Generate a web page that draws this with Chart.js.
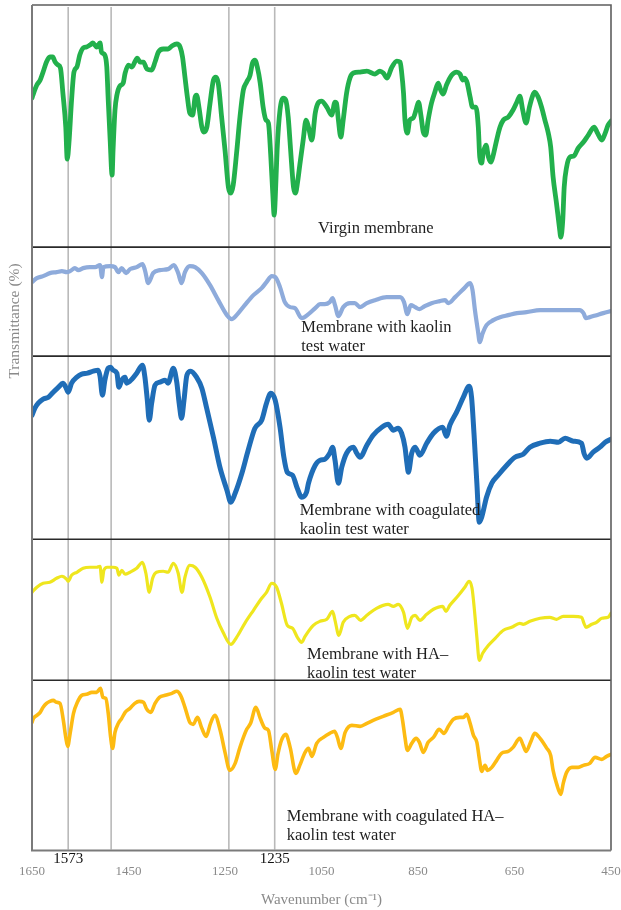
<!DOCTYPE html>
<html>
<head>
<meta charset="utf-8">
<script src="https://cdn.jsdelivr.net/npm/chart.js@4.4.1/dist/chart.umd.min.js"></script>
<style>
  html, body { margin: 0; padding: 0; background: #ffffff; }
  #wrap { width: 621px; height: 910px; }
</style>
</head>
<body>
<div id="wrap"><canvas id="ftir" width="621" height="910"></canvas></div>
<script>
// FTIR spectra of the membranes, wavenumber (cm-1) and relative transmittance per panel

const virginWn = [
  1650,1648,1640,1633,1627,1620,1613,1607,1602,1596,
  1591,1586,1580,1577,1573,1568,1563,1557,1551,1544,
  1537,1530,1524,1516,1509,1506,1499,1495,1492,1488,
  1484,1482,1478,1474,1468,1461,1457,1450,1443,1437,
  1432,1426,1419,1412,1402,1395,1388,1378,1368,1360,
  1350,1343,1338,1333,1328,1323,1317,1312,1309,1304,
  1298,1294,1288,1281,1274,1269,1264,1257,1250,1243,
  1238,1233,1226,1219,1212,1205,1198,1193,1188,1183,
  1177,1171,1165,1160,1155,1151,1148,1146,1142,1136,
  1129,1124,1119,1114,1108,1104,1099,1095,1088,1082,
  1077,1070,1063,1057,1050,1039,1029,1022,1019,1015,
  1010,1005,998,991,984,970,956,939,929,922,
  914,905,894,887,884,880,877,872,867,860,
  854,849,844,839,834,829,822,815,808,803,
  798,791,780,770,763,757,753,748,742,737,
  730,725,722,718,715,709,704,699,694,687,
  680,673,663,653,645,639,633,626,619,612,
  608,601,594,587,580,575,570,563,557,554,
  550,547,542,535,527,518,507,497,485,478,
  469,462,456,450
];
const virginT = [
  74.5,76,81,83.5,87.5,92.5,95,95,92.5,91,
  89.5,77,60,44,53.5,73.5,87.5,90,96,99.5,
  100,101,102,100,102,97.5,96,90,73.5,53.5,
  36,48.5,68.5,76,80.5,82,87,91,90,92.5,
  94.5,92.5,92.5,89,88.5,92.5,97.5,99,99,100.5,
  101.5,100,95,85,75,67,66,75,76,70,
  60,57.5,59.5,72,83.5,85,82,65,48.5,30,
  27,31,47,65,78.5,82.5,86,92,93.5,90,
  82,70,63.5,62,45,27,16,23.5,48.5,68.5,
  74.5,73.5,65,48.5,30,27,33.5,41,53.5,63.5,
  60,53.5,67,72,73,70,66,72.5,72,63.5,
  55,63.5,77,84.5,87,87.5,88,86.5,88,87,
  84.5,89.5,93,92.5,87.5,77,63.5,57,63.5,64.5,
  68.5,72.5,66,57.5,56,63.5,72,77.5,82,78.5,
  76.5,81,86,87.5,86.5,83.5,84.5,82,75,70,
  70,60,45,42,47,51,45,42.5,46,53.5,
  60,63.5,65,68.5,72.5,75.5,68.5,62,70,76,
  77.5,75,70,63.5,57,50,35,22,10,5,
  13.5,30,40,45,45.5,49.5,52.5,56,60,57,
  53.5,57,61,63
];

const kaolinWn = [
  1650,1640,1627,1613,1599,1588,1578,1571,1561,1554,
  1544,1530,1519,1509,1505,1502,1488,1478,1471,1464,
  1455,1447,1433,1421,1416,1409,1399,1385,1368,1356,
  1347,1340,1333,1323,1312,1298,1281,1264,1246,1236,
  1226,1209,1191,1174,1164,1153,1144,1136,1126,1115,
  1105,1091,1077,1063,1053,1043,1033,1027,1022,1015,
  1005,991,981,970,956,939,915,901,887,879,
  872,865,856,847,836,822,805,794,787,773,
  756,742,737,732,726,722,716,708,694,680,
  663,645,625,597,570,542,515,507,502,494,
  480,466,450
];
const kaolinT = [
  37,39,40,41.5,42,42.5,42,42.5,44,43,
  44,44.5,44.5,45.5,39.5,44.5,45,44.5,42,44,
  41.5,43.5,44.5,46,43,36.5,41.5,43,43.5,45.5,
  41.5,36.5,42,45,44.5,41.5,35.5,28,20.5,18.5,
  20.5,25.5,30.5,34,37,40,39,34.5,27,24.5,
  24,19,21,24,26,26,27,29,25.5,20,
  24.5,26.5,26.5,24.5,26.5,28,29.5,29.5,29.5,27,
  21,25.5,24.5,23.5,25,26.5,27.5,28,26.5,29.5,
  33.5,36.5,33,23,13,7,11.5,15.5,18,19.5,
  20.5,21.5,22,23,23,23,23,21.5,19,19.5,
  20.5,21.5,22.5
];

const coagKaolinWn = [
  1650,1644,1637,1627,1616,1606,1595,1586,1580,1575,
  1568,1557,1547,1535,1523,1513,1509,1504,1499,1492,
  1487,1482,1474,1470,1464,1457,1454,1443,1433,1421,
  1416,1411,1407,1402,1395,1385,1374,1368,1357,1350,
  1345,1340,1335,1329,1321,1309,1298,1288,1274,1260,
  1246,1238,1229,1215,1202,1188,1174,1164,1155,1146,
  1136,1128,1121,1110,1101,1091,1081,1077,1063,1053,
  1043,1033,1027,1022,1015,1008,998,984,977,970,
  956,943,925,912,901,891,884,877,873,870,
  863,856,846,832,818,799,791,784,770,756,
  744,739,734,728,723,718,708,697,684,666,
  649,632,618,597,576,559,545,528,511,506,
  500,487,473,462,450
];
const coagKaolinT = [
  62,65.5,68,70,71,73.5,76,78,76,73.5,
  78,81,82.5,83,84,84.5,81.5,72,79.5,85.5,
  86,84.5,83,76,79.5,81,78,80,83,87,
  81,69.5,59.5,68,77,78.5,79.5,78,85.5,78.5,
  68,60.5,69.5,82,84,81,75.5,65.5,51,35.5,
  24.5,18.5,23,33,44.5,55.5,59.5,68,73,69.5,
  56,41,33.5,32,26,21,23.5,28,37,39.5,
  40,43,46,39.5,28,36,43,46,43,41,
  47,52,56,57.5,54.5,55.5,53,46,38,33.5,
  43,46,42,48,53,56,51.5,57,63.5,71,
  76.5,71,53,28,8.5,11,21,28,32,37,
  41,42.5,46,48,49,48.5,50.5,49,48,43,
  40.5,43.5,46,48.5,50
];

const haKaolinWn = [
  1650,1640,1627,1613,1599,1588,1578,1575,1568,1557,
  1544,1530,1516,1509,1505,1501,1494,1482,1474,1470,
  1464,1457,1447,1433,1421,1414,1407,1400,1392,1378,
  1368,1357,1347,1339,1333,1323,1312,1298,1281,1267,
  1254,1238,1226,1209,1191,1174,1164,1153,1143,1133,
  1121,1110,1100,1091,1084,1067,1053,1039,1027,1022,
  1014,1005,991,981,969,956,936,912,901,891,
  880,872,863,856,846,832,818,799,792,784,
  766,753,744,738,733,728,723,716,704,690,
  673,656,639,632,618,597,577,563,549,528,
  511,506,502,490,480,469,456,450
];
const haKaolinT = [
  44,46.5,48.5,49,51,52,50.5,49.5,52.5,54,
  56,56.5,56.5,57,49,55,56.5,56.5,56,52.5,
  55,53,54,56,59,53.5,44,51,54,54.5,
  54,58.5,53.5,44,51.5,57.5,56.5,51.5,41.5,31,
  24,18,21.5,28.5,35,41,44,48.5,46.5,38.5,
  27.5,26,21.5,19,22,27.5,29.5,30.5,34.5,30,
  22.5,29,32,32.5,30,32.5,36,38,37,38,
  34,26,31.5,32.5,30,33,35.5,37,34.5,37.5,
  42.5,46.5,49.5,46,35,21.5,10,13.5,17.5,21,
  25,26.5,28.5,28,29.5,31,31.5,30.5,32,32,
  31.5,28.5,26.5,28,29,31,31.5,33.5
];

const coagHaKaolinWn = [
  1650,1647,1640,1633,1627,1620,1613,1606,1599,1592,
  1585,1580,1576,1571,1564,1556,1547,1537,1526,1516,
  1508,1503,1497,1492,1487,1483,1478,1471,1464,1457,
  1447,1437,1428,1419,1412,1404,1395,1386,1374,1360,
  1350,1342,1333,1323,1316,1307,1298,1289,1280,1271,
  1260,1250,1240,1229,1219,1205,1197,1186,1177,1167,
  1160,1153,1146,1140,1133,1124,1115,1103,1095,1084,
  1077,1070,1060,1046,1033,1023,1017,1010,1001,987,
  970,956,943,922,901,887,882,877,872,863,
  854,847,839,829,818,806,796,787,777,763,
  756,749,742,735,728,723,718,711,706,697,
  687,677,663,653,639,632,626,616,608,597,
  583,575,570,563,554,549,542,531,518,507,
  494,483,469,459,450
];
const coagHaKaolinT = [
  64,66,67.5,69,71.5,73.5,74.5,75,74,73.5,
  65,56.5,52,58.5,68.5,74,77.5,78,79,79,
  81,76.5,76,68.5,56.5,51,59,63.5,66,69,
  71,73.5,74.5,74,70.5,69,73.5,76.5,77.5,78.5,
  79.5,77.5,71.5,64,63,66.5,61,57,63.5,67.5,
  60,49,40,43.5,51.5,60.5,63.5,71.5,66,61,
  60,50,40.5,48.5,55,58,51.5,38.5,42.5,49,
  51,47,53.5,56.5,58.5,59.5,56.5,51,59,62.5,
  62,63.5,65,67,69,70.5,65,56.5,50,53.5,
  56,54,49,54,56.5,60.5,58.5,62,65.5,66.5,
  66.5,68,63.5,57.5,54,46,39.5,42.5,40,41.5,
  45,48.5,49.5,51.5,56,52.5,49.5,54.5,58.5,56,
  51,47.5,40,33.5,28,33.5,39,41.5,41.5,42.5,
  43.5,46.5,45.5,47,48
];

// x-axis tick values and the marked absorption bands
const xTicks = [1650, 1450, 1250, 1050, 850, 650, 450];
const bandLines = [1575, 1486, 1242, 1147];
const bandLabels = ['1573', null, null, '1235'];

const seriesNames = [
  'Virgin membrane',
  'Membrane with kaolin test water',
  'Membrane with coagulated kaolin test water',
  'Membrane with HA–kaolin test water',
  'Membrane with coagulated HA–kaolin test water'
];

// ---------------------------------------------------------------------------
const SERIF = '"Liberation Serif", "Times New Roman", Times, serif';

const panels = [
  { id: 'y1', max: 121,  weight: 242, color: '#22B04C', width: 4.8, wn: virginWn,       t: virginT },
  { id: 'y2', max: 54.5, weight: 109, color: '#8EABDB', width: 4.2, wn: kaolinWn,       t: kaolinT },
  { id: 'y3', max: 91.5, weight: 183, color: '#1F6DB7', width: 5,   wn: coagKaolinWn,   t: coagKaolinT },
  { id: 'y4', max: 70.5, weight: 141, color: '#EFE61E', width: 3.2, wn: haKaolinWn,     t: haKaolinT },
  { id: 'y5', max: 85,   weight: 170, color: '#FDBB12', width: 3.6, wn: coagHaKaolinWn, t: coagHaKaolinT }
];

// panel captions, anchored in each panel's own coordinates
const captions = [
  { scale: 'y1', wn: 1057, t: 9,    lines: ['Virgin membrane'] },
  { scale: 'y2', wn: 1092, t: 14,   lines: ['Membrane with kaolin', 'test water'] },
  { scale: 'y3', wn: 1095, t: 14.5, lines: ['Membrane with coagulated', 'kaolin test water'] },
  { scale: 'y4', wn: 1080, t: 13,   lines: ['Membrane with HA–', 'kaolin test water'] },
  { scale: 'y5', wn: 1122, t: 17,   lines: ['Membrane with coagulated HA–', 'kaolin test water'] }
];

const datasets = panels.map((p, i) => ({
  label: seriesNames[i],
  data: p.wn.map((w, k) => ({ x: w, y: p.t[k] })),
  yAxisID: p.id,
  xAxisID: 'x',
  borderColor: p.color,
  backgroundColor: p.color,
  borderWidth: p.width,
  pointRadius: 0,
  fill: false,
  cubicInterpolationMode: 'monotone',
  borderJoinStyle: 'round',
  borderCapStyle: 'round'
}));

const scales = {
  x: {
    type: 'linear',
    reverse: true,
    min: 450,
    max: 1650,
    afterBuildTicks: (scale) => { scale.ticks = xTicks.map(v => ({ value: v })); },
    // end labels may overhang the plot edges
    afterFit: (scale) => { scale.paddingLeft = 0; scale.paddingRight = 0; },
    grid: { display: false, drawTicks: false },
    border: { display: false },
    ticks: {
      color: '#8a8a8a',
      font: { family: SERIF, size: 13 },
      padding: 13,
      maxRotation: 0,
      autoSkip: false,
      callback: (v) => String(v)
    },
    title: {
      display: true,
      text: 'Wavenumber (cm⁻¹)',
      color: '#8a8a8a',
      font: { family: SERIF, size: 15 },
      padding: { top: -1, bottom: 0 }
    }
  }
};
panels.forEach(p => {
  scales[p.id] = {
    type: 'linear',
    position: 'right',
    stack: 'panels',
    stackWeight: p.weight,
    min: 0,
    max: p.max,
    display: false,
    grid: { display: false },
    afterFit: (scale) => { scale.width = 0; scale.paddingTop = 0; scale.paddingBottom = 0; }
  };
});

const framePlugin = {
  id: 'frame',
  beforeDatasetsDraw(chart) {
    const { ctx, chartArea: a, scales: s } = chart;
    ctx.save();
    ctx.strokeStyle = '#b9b9b9';
    ctx.lineWidth = 1.6;
    bandLines.forEach(w => {
      const x = s.x.getPixelForValue(w);
      ctx.beginPath();
      ctx.moveTo(x, a.top + 2);
      ctx.lineTo(x, a.bottom - 1);
      ctx.stroke();
    });
    ctx.restore();
  },
  afterDatasetsDraw(chart) {
    const { ctx, chartArea: a, scales: s } = chart;
    ctx.save();
    // panel separators
    ctx.strokeStyle = '#2a2a2a';
    ctx.lineWidth = 1.6;
    panels.slice(0, -1).forEach(p => {
      const y = s[p.id].bottom;
      ctx.beginPath();
      ctx.moveTo(a.left, y);
      ctx.lineTo(a.right, y);
      ctx.stroke();
    });
    // outer frame
    ctx.strokeStyle = '#5e5e5e';
    ctx.lineWidth = 1.6;
    ctx.beginPath();
    ctx.moveTo(a.left, a.top);
    ctx.lineTo(a.right, a.top);
    ctx.lineTo(a.right, a.bottom);
    ctx.stroke();
    ctx.strokeStyle = '#7a7a7a';
    ctx.lineWidth = 2;
    ctx.beginPath();
    ctx.moveTo(a.left, a.top);
    ctx.lineTo(a.left, a.bottom);
    ctx.lineTo(a.right, a.bottom);
    ctx.stroke();
    ctx.restore();
  },
  afterDraw(chart) {
    const { ctx, chartArea: a, scales: s } = chart;
    ctx.save();
    // captions
    ctx.fillStyle = '#1e1e1e';
    ctx.font = '16.5px ' + SERIF;
    ctx.textAlign = 'left';
    ctx.textBaseline = 'middle';
    captions.forEach(c => {
      const x = s.x.getPixelForValue(c.wn);
      const y = s[c.scale].getPixelForValue(c.t);
      c.lines.forEach((line, i) => ctx.fillText(line, x, y + i * 19));
    });
    // band labels
    ctx.fillStyle = '#111111';
    ctx.font = '15px ' + SERIF;
    ctx.textAlign = 'center';
    bandLines.forEach((w, i) => {
      if (!bandLabels[i]) return;
      ctx.fillText(bandLabels[i], s.x.getPixelForValue(w), a.bottom + 9);
    });
    // y-axis title
    ctx.fillStyle = '#8a8a8a';
    ctx.font = '15.5px ' + SERIF;
    ctx.translate(a.left - 17, 321);
    ctx.rotate(-Math.PI / 2);
    ctx.textAlign = 'center';
    ctx.fillText('Transmittance (%)', 0, 0);
    ctx.restore();
  }
};

new Chart(document.getElementById('ftir'), {
  type: 'line',
  data: { datasets },
  options: {
    responsive: false,
    animation: false,
    devicePixelRatio: 1,
    layout: { padding: { left: 32, right: 10, top: 5, bottom: 1 } },
    plugins: { legend: { display: false }, tooltip: { enabled: false } },
    scales
  },
  plugins: [framePlugin]
});
</script>
</body>
</html>
